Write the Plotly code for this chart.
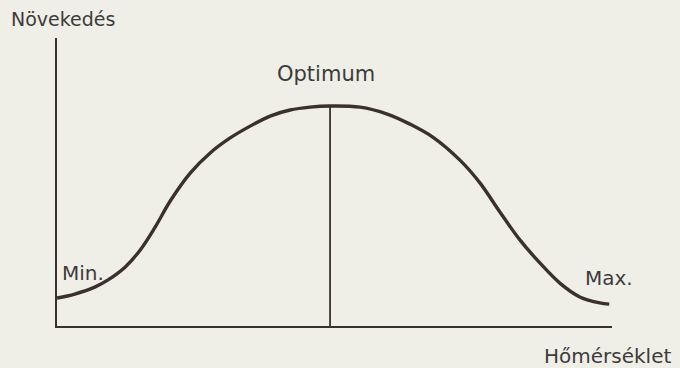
import plotly.graph_objects as go

# Temperature (arbitrary 0-100 scale) and growth (arbitrary 0-100 scale)
temperature = [0, 3.2, 6.8, 9.2, 12.3, 15.0, 17.7, 20.4, 24.0, 27.6, 31.2, 34.8, 38.4, 42.0,
               45.6, 49.2, 54.6, 59.5, 63.6, 67.7, 72.6, 76.2, 79.8, 83.4, 87.0, 90.6, 94.2,
               97.8, 99.5]
growth = [9.7, 11.1, 13.5, 16.0, 20.5, 26.4, 34.4, 43.4, 53.1, 60.1, 65.3, 69.4, 72.9, 75.0,
          76.0, 76.4, 76.0, 73.6, 70.1, 65.6, 57.6, 49.7, 39.6, 29.9, 21.9, 14.9, 10.1,
          8.0, 7.6]
optimum_x = 49.2
optimum_y = 76.4

ink = "#3a302c"
txt = "#3c3c3c"
bg = "#efeee7"
font = "DejaVu Sans"

fig = go.Figure()
fig.add_trace(go.Scatter(x=temperature, y=growth, mode="lines",
                         line=dict(color=ink, width=3.4, shape="spline", smoothing=1.0),
                         hoverinfo="skip", showlegend=False))
fig.add_trace(go.Scatter(x=[optimum_x, optimum_x], y=[0, optimum_y], mode="lines",
                         line=dict(color=ink, width=1.8),
                         hoverinfo="skip", showlegend=False))

ann = []
ann.append(dict(text="Növekedés", xref="paper", yref="paper", x=-0.087, y=1.066,
                xanchor="left", yanchor="middle", showarrow=False,
                font=dict(family=font, size=19, color=txt)))
ann.append(dict(text="Optimum", x=48.5, y=87.5, xanchor="center", yanchor="middle",
                showarrow=False, font=dict(family=font, size=21, color=txt)))
ann.append(dict(text="Min.", x=4.6, y=18.5, xanchor="center", yanchor="middle",
                showarrow=False, font=dict(family=font, size=20, color=txt)))
ann.append(dict(text="Max.", x=99.5, y=16.5, xanchor="center", yanchor="middle",
                showarrow=False, font=dict(family=font, size=20, color=txt)))
ann.append(dict(text="Hőmérséklet", xref="paper", yref="paper", x=0.992, y=-0.105,
                xanchor="center", yanchor="middle",
                showarrow=False, font=dict(family=font, size=20, color=txt)))

fig.update_layout(
    width=680, height=368, autosize=False,
    margin=dict(l=57, r=68, t=38, b=42),
    paper_bgcolor=bg, plot_bgcolor=bg,
    annotations=ann,
    xaxis=dict(range=[0, 100], showgrid=False, zeroline=False, showticklabels=False,
               ticks="", showline=True, linecolor=ink, linewidth=2),
    yaxis=dict(range=[0, 100], showgrid=False, zeroline=False, showticklabels=False,
               ticks="", showline=True, linecolor=ink, linewidth=2),
)

fig.write_html("out.html", config={"displayModeBar": False, "staticPlot": True},
               post_script="document.body.style.margin='0px';document.body.style.background='%s';" % bg)
